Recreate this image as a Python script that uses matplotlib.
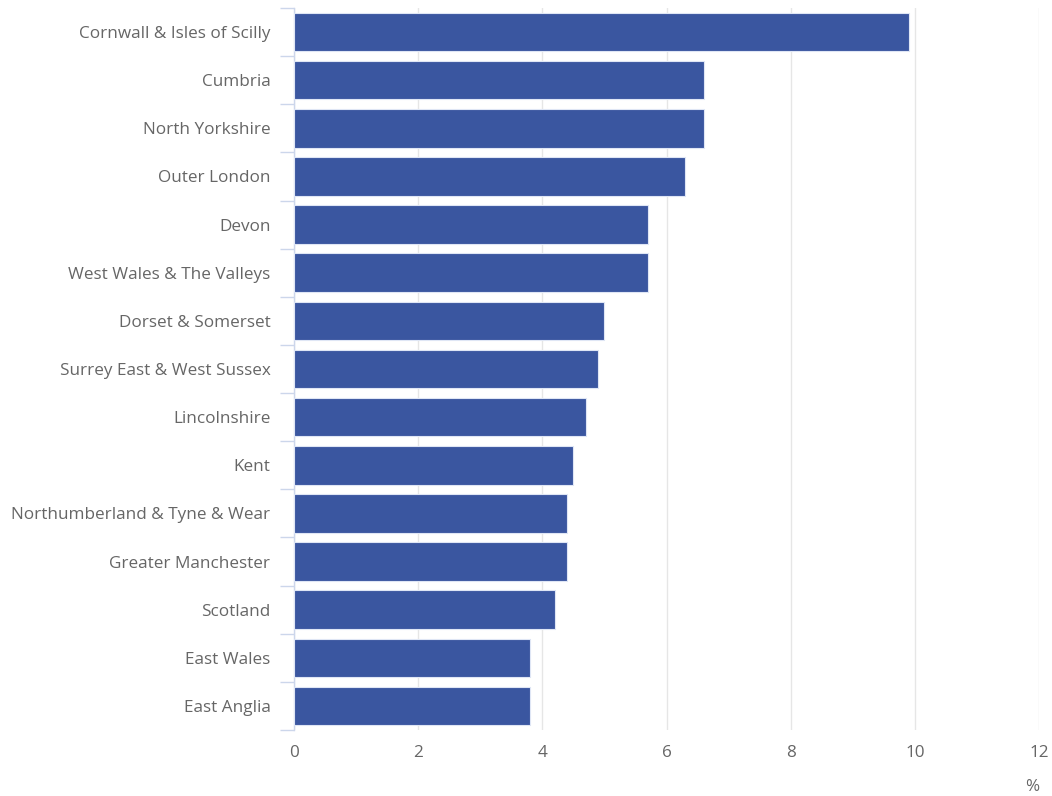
import matplotlib.pyplot as plt

plt.rcParams['font.family'] = ['Open Sans', 'DejaVu Sans']

regions = [
    "Cornwall & Isles of Scilly", "Cumbria", "North Yorkshire", "Outer London",
    "Devon", "West Wales & The Valleys", "Dorset & Somerset",
    "Surrey East & West Sussex", "Lincolnshire", "Kent",
    "Northumberland & Tyne & Wear", "Greater Manchester", "Scotland",
    "East Wales", "East Anglia",
]
values = [9.9, 6.6, 6.6, 6.3, 5.7, 5.7, 5.0, 4.9, 4.7, 4.5, 4.4, 4.4, 4.2, 3.8, 3.8]
xticks = [0, 2, 4, 6, 8, 10, 12]

fig = plt.figure(figsize=(10.52, 7.96), dpi=100)
ax = fig.add_axes([294 / 1052, 1 - 730 / 796, (1039 - 294) / 1052, (730 - 8) / 796])

pos = list(range(len(regions)))
ax.barh(pos, values, height=0.8, color='#3a56a0', edgecolor='#dfe6f5', linewidth=0.8, zorder=3)

ax.set_xlim(0, 12)
ax.set_ylim(len(regions) - 0.5, -0.5)
ax.set_xticks(xticks)
ax.set_xticklabels([str(t) for t in xticks])
ax.set_yticks(pos)
ax.set_yticklabels(regions)

# tick marks between categories
ax.set_yticks([p - 0.5 for p in pos] + [len(regions) - 0.5], minor=True)
ax.tick_params(axis='y', which='major', length=0, pad=17, labelsize=12.3, labelcolor='#666666')
ax.tick_params(axis='y', which='minor', length=10, width=1, color='#ccd6eb')
ax.tick_params(axis='x', length=0, pad=11, labelsize=12.3, labelcolor='#666666')

ax.grid(axis='x', color='#e6e6e6', linewidth=1, zorder=0)
for s in ['top', 'right', 'bottom']:
    ax.spines[s].set_visible(False)
ax.spines['left'].set_color('#ccd6eb')
ax.spines['left'].set_linewidth(1)

fig.text(1039 / 1052, 1 - 787 / 796, '%', ha='right', va='center', fontsize=12.3, color='#666666')

fig.savefig('out.png', dpi=100)
